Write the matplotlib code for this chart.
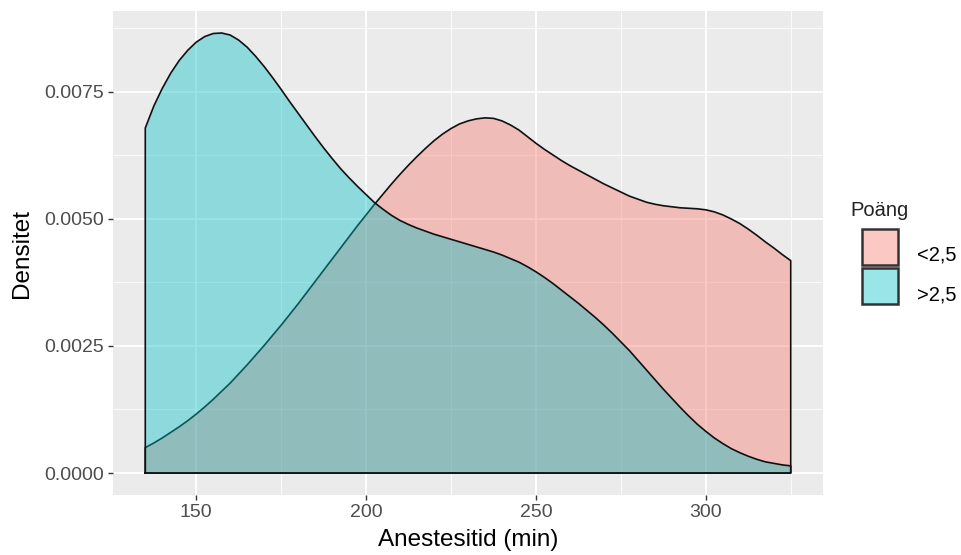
import matplotlib
matplotlib.use("Agg")
import matplotlib.pyplot as plt
from matplotlib.patches import Rectangle
from matplotlib.ticker import FixedLocator

plt.rcParams['font.family'] = ['Liberation Sans', 'DejaVu Sans']

# Data (density estimates, step 2.5 min)
x_vals = [135.0, 137.5, 140.0, 142.5, 145.0, 147.5, 150.0, 152.5, 155.0, 157.5,
          160.0, 162.5, 165.0, 167.5, 170.0, 172.5, 175.0, 177.5, 180.0, 182.5,
          185.0, 187.5, 190.0, 192.5, 195.0, 197.5, 200.0, 202.5, 205.0, 207.5,
          210.0, 212.5, 215.0, 217.5, 220.0, 222.5, 225.0, 227.5, 230.0, 232.5,
          235.0, 237.5, 240.0, 242.5, 245.0, 247.5, 250.0, 252.5, 255.0, 257.5,
          260.0, 262.5, 265.0, 267.5, 270.0, 272.5, 275.0, 277.5, 280.0, 282.5,
          285.0, 287.5, 290.0, 292.5, 295.0, 297.5, 300.0, 302.5, 305.0, 307.5,
          310.0, 312.5, 315.0, 317.5, 320.0, 322.5, 325.0]

# "<2,5" group
dens_low = [0.00050, 0.00059, 0.00069, 0.00080, 0.00091, 0.00103, 0.00116, 0.00130, 0.00145, 0.00161,
            0.00177, 0.00195, 0.00213, 0.00232, 0.00251, 0.00271, 0.00291, 0.00312, 0.00333, 0.00355,
            0.00377, 0.00399, 0.00421, 0.00443, 0.00465, 0.00487, 0.00508, 0.00529, 0.00549, 0.00569,
            0.00588, 0.00606, 0.00623, 0.00639, 0.00654, 0.00667, 0.00678, 0.00687, 0.00693, 0.00697,
            0.00699, 0.00698, 0.00693, 0.00685, 0.00675, 0.00662, 0.00649, 0.00637, 0.00626, 0.00615,
            0.00605, 0.00596, 0.00587, 0.00578, 0.00569, 0.00561, 0.00553, 0.00545, 0.00539, 0.00533,
            0.00529, 0.00526, 0.00524, 0.00522, 0.00521, 0.00520, 0.00518, 0.00514, 0.00508, 0.00500,
            0.00491, 0.00480, 0.00468, 0.00455, 0.00443, 0.00430, 0.00418]

# ">2,5" group
dens_high = [0.00679, 0.00722, 0.00757, 0.00787, 0.00812, 0.00832, 0.00848, 0.00859, 0.00865, 0.00866,
             0.00862, 0.00852, 0.00838, 0.00820, 0.00800, 0.00778, 0.00755, 0.00731, 0.00708, 0.00685,
             0.00662, 0.00640, 0.00619, 0.00599, 0.00581, 0.00564, 0.00548, 0.00532, 0.00519, 0.00507,
             0.00497, 0.00489, 0.00482, 0.00476, 0.00470, 0.00465, 0.00460, 0.00455, 0.00450, 0.00445,
             0.00440, 0.00435, 0.00429, 0.00422, 0.00415, 0.00406, 0.00396, 0.00385, 0.00373, 0.00360,
             0.00347, 0.00334, 0.00320, 0.00306, 0.00291, 0.00275, 0.00258, 0.00241, 0.00222, 0.00203,
             0.00184, 0.00165, 0.00147, 0.00129, 0.00112, 0.00096, 0.00082, 0.00069, 0.00058, 0.00048,
             0.00040, 0.00033, 0.00027, 0.00022, 0.00019, 0.00016, 0.00014]

group_labels = ["<2,5", ">2,5"]
group_colors = ["#F8766D", "#00BFC4"]
legend_title = "Poäng"
x_label = "Anestesitid (min)"
y_label = "Densitet"
x_ticks = [150, 200, 250, 300]
y_ticks = [0.0, 0.0025, 0.0050, 0.0075]
y_tick_labels = ["0.0000", "0.0025", "0.0050", "0.0075"]

W, H = 961, 555
fig = plt.figure(figsize=(W/100, H/100), dpi=100)
pl, pr, pt, pb = 113, 823, 11, 495
ax = fig.add_axes([pl/W, 1-pb/H, (pr-pl)/W, (pb-pt)/H])
ax.set_facecolor("#EBEBEB")

xmin, xmax = min(x_vals), max(x_vals)
ymax = max(max(dens_low), max(dens_high))
xr = xmax - xmin
ax.set_xlim(xmin - 0.05*xr, xmax + 0.05*xr)
ax.set_ylim(-0.05*ymax, ymax*1.05)

ax.xaxis.set_major_locator(FixedLocator(x_ticks))
ax.xaxis.set_minor_locator(FixedLocator([125, 175, 225, 275, 325]))
ax.yaxis.set_major_locator(FixedLocator(y_ticks))
ax.yaxis.set_minor_locator(FixedLocator([0.00125, 0.00375, 0.00625, 0.00875]))
ax.grid(which='major', color='white', linewidth=1.3)
ax.grid(which='minor', color='white', linewidth=0.6)
ax.set_axisbelow(True)

z = 2
for dens, col in zip([dens_low, dens_high], group_colors):
    px = [x_vals[0]] + list(x_vals) + [x_vals[-1]]
    py = [0] + list(dens) + [0]
    ax.fill(px, py, facecolor=col, alpha=0.4, edgecolor='none', zorder=z)
    ax.plot(px + [px[0]], py + [py[0]], color='#111111', linewidth=1.2, zorder=z + 1,
            solid_joinstyle='round')
    z += 2

for s in ax.spines.values():
    s.set_visible(False)

ax.set_yticklabels(y_tick_labels)
ax.tick_params(which='major', length=3.5, width=1, color='#333333',
               labelcolor='#4D4D4D', labelsize=14, pad=3)
ax.tick_params(which='minor', length=0)

ax.set_xlabel(x_label, fontsize=17.5, color='black', labelpad=6)
ax.set_ylabel(y_label, fontsize=17.5, color='black', labelpad=8)

# legend (ggplot-like, placed to the right of the panel)
fig.text(850/W, 1-210/H, legend_title, fontsize=14.5, color='#222222',
         va='center', ha='left')
key_tops = [229, 268]
label_centres = [255, 295]
for lab, col, kt, lc in zip(group_labels, group_colors, key_tops, label_centres):
    r = Rectangle((862/W, 1-(kt+36)/H), 36/W, 36/H, transform=fig.transFigure,
                  facecolor=col, alpha=0.4, edgecolor='none')
    fig.patches.append(r)
    r2 = Rectangle((862/W, 1-(kt+36)/H), 36/W, 36/H, transform=fig.transFigure,
                   facecolor='none', edgecolor='#333333', linewidth=1.8)
    fig.patches.append(r2)
    fig.text(917/W, 1-lc/H, lab, fontsize=14.5, color='black',
             va='center', ha='left')

fig.savefig("out.png", dpi=100, facecolor='white')
